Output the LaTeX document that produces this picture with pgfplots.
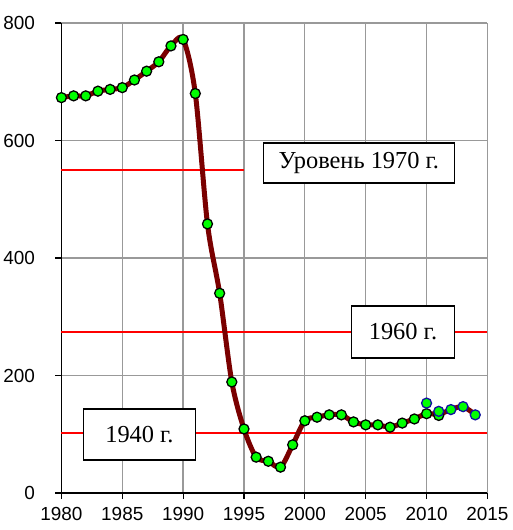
\documentclass[border=0pt]{standalone}
\usepackage{fontspec}
\setmainfont{Liberation Serif}
\newfontfamily\arial{Liberation Sans}
\usepackage{pgfplots}
\pgfplotsset{compat=1.18}
\definecolor{cline}{HTML}{7A0000}
\definecolor{cgreen}{HTML}{00FF00}
\definecolor{cblue}{HTML}{1010A0}
\definecolor{cgrid}{HTML}{999999}
\definecolor{cred}{HTML}{FF0000}

\begin{document}
\begin{tikzpicture}
\begin{axis}[
  scale only axis, width=426bp, height=470bp,
  xmin=1980, xmax=2015, ymin=0, ymax=800,
  xtick={1980,1985,...,2015}, ytick={0,200,...,800},
  axis lines=left, axis line style={-, black, line width=1.2pt},
  grid=major, grid style={cgrid, line width=1.3pt},
  tick align=outside, major tick length=6bp,
  tick style={black, line width=1.1pt},
  tick label style={font=\arial\fontsize{19}{21}\selectfont},
  /pgf/number format/assume math mode=true,
  /pgf/number format/1000 sep={},
  xticklabel style={yshift=-5bp},
  yticklabel style={xshift=-17bp},
  clip=false,
]
% reference levels
\addplot[draw=cred, line width=1.5pt, no marks] coordinates {(1980,550)(1995,550)};
\addplot[draw=cred, line width=1.5pt, no marks] coordinates {(1980,274.4)(2015,274.4)};
\addplot[draw=cred, line width=1.5pt, no marks] coordinates {(1980,102)(2015,102)};

% smoothed line
\addplot[cline, line width=5bp, smooth, tension=0.5, no marks] coordinates {
  (1980,673)(1981,676)(1982,676)(1983,684)(1984,687)(1985,690)
  (1986,703)(1987,718)(1988,734)(1989,761)(1990,772)(1991,680)
  (1992,458)(1993,340)(1994,189)(1995,109)(1996,61)(1997,54)
  (1998,44)(1999,82)(2000,123)(2001,129)(2002,133)(2003,133)
  (2004,121)(2005,116)(2006,116)(2007,112)(2008,119)(2009,126)
  (2010,135)(2011,134)(2012,142)(2013,147)(2014,133)
};

% old series
\addplot[only marks, mark=*, mark size=5bp,
  mark options={fill=cgreen, draw=black, line width=1.3pt}] coordinates {
  (1980,673)(1981,676)(1982,676)(1983,684)(1984,687)(1985,690)
  (1986,703)(1987,718)(1988,734)(1989,761)(1990,772)(1991,680)
  (1992,458)(1993,340)(1994,189)(1995,109)(1996,61)(1997,54)
  (1998,44)(1999,82)(2000,123)(2001,129)(2002,133)(2003,133)
  (2004,121)(2005,116)(2006,116)(2007,112)(2008,119)(2009,126)
  (2010,135)(2011,132)
};
% new series
\addplot[only marks, mark=*, mark size=5bp,
  mark options={fill=cgreen, draw=cblue, line width=1.3pt}] coordinates {
  (2010,153)(2011,139)(2012,142)(2013,147)(2014,133)
};

\node[draw=black, fill=white, line width=1.1pt, font=\fontsize{24.5}{27}\selectfont,
  minimum width=191bp, minimum height=40bp, inner sep=0pt]
  at (axis cs:2004.44,561.7) {Уровень 1970 г.};
\node[draw=black, fill=white, line width=1.1pt, font=\fontsize{24.5}{27}\selectfont,
  minimum width=103bp, minimum height=52bp, inner sep=0pt]
  at (axis cs:2008.06,274) {1960 г.};
\node[draw=black, fill=white, line width=1.1pt, font=\fontsize{24.5}{27}\selectfont,
  minimum width=112bp, minimum height=51bp, inner sep=0pt]
  at (axis cs:1986.41,99.6) {1940 г.};
\end{axis}
\path (-61bp,-37bp) rectangle (451bp,493bp);
\end{tikzpicture}
\end{document}
